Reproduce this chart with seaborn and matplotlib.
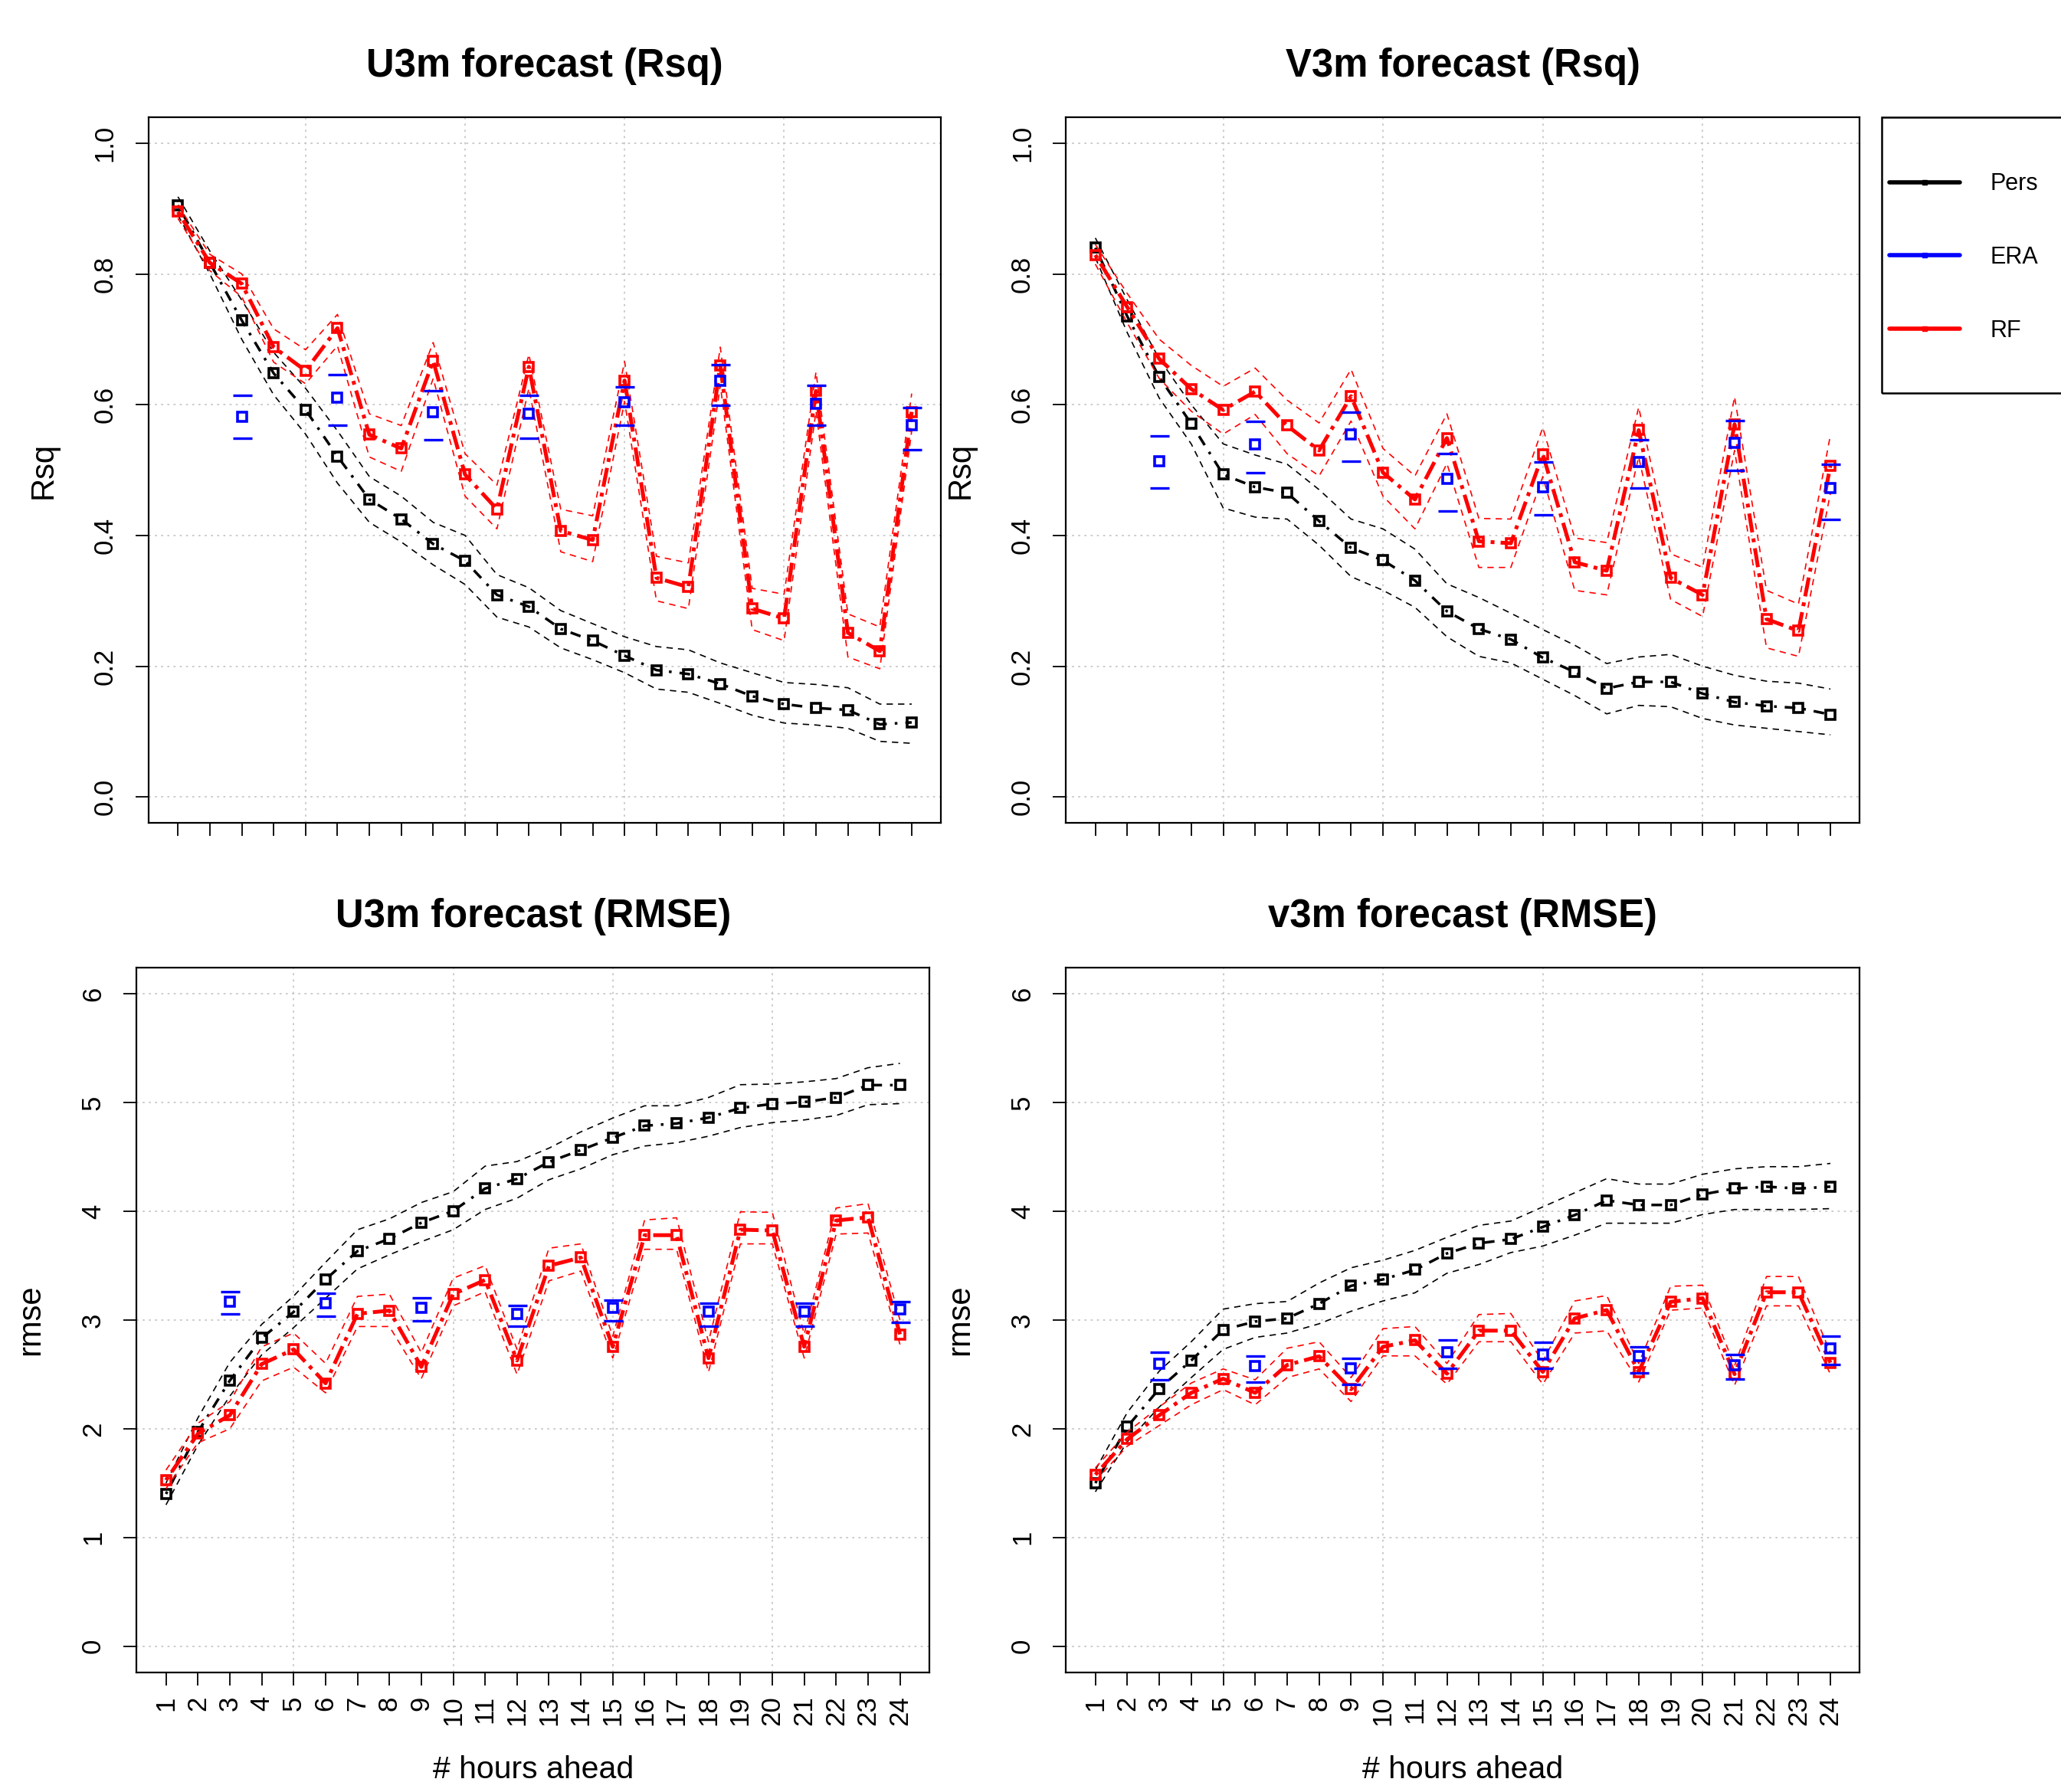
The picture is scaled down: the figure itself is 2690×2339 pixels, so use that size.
import matplotlib
matplotlib.use("Agg")
import numpy as np
import matplotlib.pyplot as plt
from matplotlib.lines import Line2D
from matplotlib.patches import Rectangle
import seaborn as sns

# hours ahead (x axis) and the hours where ERA is available
hours = list(range(1, 25))
era_hours = list(range(3, 25, 3))

# --- U3m Rsq ---
pers_u_rsq = [0.905, 0.817, 0.729, 0.648, 0.592, 0.521, 0.455, 0.425, 0.387, 0.361, 0.309, 0.291,
              0.257, 0.239, 0.216, 0.194, 0.188, 0.173, 0.154, 0.142, 0.136, 0.133, 0.111, 0.114]
pers_u_rsq_hi = [0.918, 0.835, 0.76, 0.68, 0.625, 0.56, 0.49, 0.46, 0.42, 0.40, 0.34, 0.32,
                 0.285, 0.265, 0.245, 0.23, 0.225, 0.205, 0.19, 0.175, 0.172, 0.167, 0.142, 0.142]
pers_u_rsq_lo = [0.89, 0.80, 0.70, 0.615, 0.555, 0.48, 0.42, 0.39, 0.355, 0.325, 0.275, 0.26,
                 0.228, 0.21, 0.19, 0.165, 0.16, 0.143, 0.125, 0.113, 0.11, 0.105, 0.085, 0.082]
rf_u_rsq = [0.895, 0.817, 0.785, 0.688, 0.652, 0.717, 0.554, 0.533, 0.667, 0.493, 0.44, 0.658,
            0.407, 0.393, 0.637, 0.335, 0.321, 0.66, 0.288, 0.273, 0.621, 0.251, 0.223, 0.589]
rf_u_rsq_hi = [0.905, 0.83, 0.80, 0.716, 0.684, 0.738, 0.586, 0.568, 0.695, 0.525, 0.477, 0.677,
               0.44, 0.43, 0.666, 0.368, 0.358, 0.688, 0.319, 0.31, 0.65, 0.28, 0.26, 0.617]
rf_u_rsq_lo = [0.885, 0.805, 0.765, 0.665, 0.632, 0.69, 0.52, 0.498, 0.64, 0.46, 0.41, 0.625,
               0.375, 0.36, 0.605, 0.30, 0.288, 0.63, 0.256, 0.239, 0.59, 0.214, 0.196, 0.56]
era_u_rsq = [0.582, 0.611, 0.589, 0.586, 0.604, 0.636, 0.601, 0.568]
era_u_rsq_hi = [0.614, 0.646, 0.621, 0.614, 0.627, 0.661, 0.629, 0.595]
era_u_rsq_lo = [0.549, 0.568, 0.546, 0.549, 0.568, 0.599, 0.568, 0.531]

# --- V3m Rsq ---
pers_v_rsq = [0.84, 0.735, 0.642, 0.571, 0.493, 0.474, 0.465, 0.422, 0.381, 0.362, 0.331, 0.284,
              0.257, 0.241, 0.213, 0.191, 0.166, 0.176, 0.176, 0.158, 0.145, 0.139, 0.136, 0.126]
pers_v_rsq_hi = [0.855, 0.76, 0.67, 0.60, 0.54, 0.523, 0.509, 0.47, 0.425, 0.41, 0.379, 0.326,
                 0.305, 0.281, 0.256, 0.232, 0.204, 0.214, 0.218, 0.20, 0.186, 0.177, 0.174, 0.165]
pers_v_rsq_lo = [0.825, 0.71, 0.61, 0.54, 0.442, 0.428, 0.425, 0.385, 0.337, 0.316, 0.29, 0.245,
                 0.215, 0.205, 0.18, 0.155, 0.127, 0.14, 0.138, 0.12, 0.11, 0.105, 0.10, 0.095]
rf_v_rsq = [0.829, 0.749, 0.67, 0.624, 0.592, 0.62, 0.568, 0.53, 0.613, 0.496, 0.455, 0.549,
            0.391, 0.388, 0.524, 0.359, 0.346, 0.561, 0.335, 0.309, 0.57, 0.272, 0.254, 0.507]
rf_v_rsq_hi = [0.845, 0.77, 0.70, 0.66, 0.628, 0.656, 0.607, 0.572, 0.654, 0.533, 0.491, 0.586,
               0.426, 0.425, 0.565, 0.396, 0.389, 0.596, 0.372, 0.351, 0.612, 0.316, 0.295, 0.554]
rf_v_rsq_lo = [0.815, 0.725, 0.64, 0.59, 0.555, 0.585, 0.525, 0.491, 0.575, 0.46, 0.41, 0.51,
               0.351, 0.351, 0.49, 0.316, 0.309, 0.52, 0.302, 0.276, 0.53, 0.228, 0.215, 0.465]
era_v_rsq = [0.514, 0.539, 0.554, 0.487, 0.474, 0.512, 0.542, 0.472]
era_v_rsq_hi = [0.552, 0.574, 0.589, 0.525, 0.512, 0.546, 0.576, 0.509]
era_v_rsq_lo = [0.472, 0.496, 0.514, 0.437, 0.431, 0.472, 0.499, 0.425]

# --- U3m RMSE ---
pers_u_rmse = [1.40, 1.97, 2.443, 2.834, 3.074, 3.373, 3.633, 3.747, 3.894, 4.003, 4.209, 4.298,
               4.453, 4.563, 4.676, 4.786, 4.807, 4.861, 4.95, 4.987, 5.004, 5.046, 5.16, 5.16]
pers_u_rmse_hi = [1.5, 2.1, 2.61, 2.96, 3.22, 3.53, 3.83, 3.93, 4.08, 4.18, 4.415, 4.457,
                  4.58, 4.73, 4.857, 4.97, 4.97, 5.046, 5.164, 5.17, 5.19, 5.22, 5.32, 5.36]
pers_u_rmse_lo = [1.3, 1.85, 2.3, 2.68, 2.93, 3.2, 3.47, 3.6, 3.72, 3.83, 4.016, 4.12,
                  4.29, 4.39, 4.52, 4.6, 4.63, 4.69, 4.77, 4.815, 4.84, 4.88, 4.98, 4.99]
rf_u_rmse = [1.527, 1.955, 2.124, 2.595, 2.729, 2.418, 3.057, 3.087, 2.569, 3.238, 3.368, 2.628,
             3.499, 3.574, 2.754, 3.78, 3.78, 2.649, 3.831, 3.823, 2.754, 3.915, 3.944, 2.868]
rf_u_rmse_hi = [1.62, 2.05, 2.25, 2.754, 2.88, 2.6, 3.217, 3.238, 2.7, 3.385, 3.5, 2.73,
                3.66, 3.7, 2.85, 3.92, 3.94, 2.8, 3.995, 3.99, 2.87, 4.03, 4.07, 3.0]
rf_u_rmse_lo = [1.45, 1.87, 2.0, 2.44, 2.566, 2.33, 2.94, 2.94, 2.46, 3.13, 3.26, 2.5,
                3.36, 3.45, 2.65, 3.65, 3.65, 2.52, 3.7, 3.7, 2.65, 3.79, 3.8, 2.775]
era_u_rmse = [3.167, 3.154, 3.112, 3.057, 3.112, 3.074, 3.074, 3.095]
era_u_rmse_hi = [3.263, 3.246, 3.204, 3.133, 3.183, 3.154, 3.154, 3.167]
era_u_rmse_lo = [3.057, 3.036, 2.994, 2.944, 2.994, 2.944, 2.944, 2.981]

# --- V3m RMSE ---
pers_v_rmse = [1.5, 2.018, 2.368, 2.628, 2.91, 2.986, 3.015, 3.15, 3.314, 3.373, 3.461, 3.612,
               3.705, 3.743, 3.856, 3.965, 4.1, 4.058, 4.058, 4.155, 4.209, 4.226, 4.209, 4.226]
pers_v_rmse_hi = [1.62, 2.15, 2.53, 2.8, 3.10, 3.15, 3.17, 3.34, 3.48, 3.55, 3.64, 3.76,
                  3.87, 3.91, 4.04, 4.17, 4.30, 4.25, 4.25, 4.34, 4.39, 4.41, 4.41, 4.44]
pers_v_rmse_lo = [1.42, 1.88, 2.2, 2.47, 2.73, 2.84, 2.88, 2.965, 3.08, 3.175, 3.25, 3.43,
                  3.51, 3.62, 3.68, 3.78, 3.89, 3.89, 3.89, 3.97, 4.016, 4.016, 4.016, 4.024]
rf_v_rmse = [1.577, 1.905, 2.124, 2.33, 2.46, 2.33, 2.586, 2.666, 2.363, 2.754, 2.813, 2.506,
             2.902, 2.902, 2.523, 3.015, 3.091, 2.523, 3.167, 3.2, 2.502, 3.255, 3.255, 2.607]
rf_v_rmse_hi = [1.64, 1.97, 2.2, 2.42, 2.55, 2.45, 2.74, 2.8, 2.47, 2.92, 2.94, 2.6,
                3.05, 3.06, 2.62, 3.175, 3.225, 2.6, 3.31, 3.32, 2.58, 3.4, 3.4, 2.7]
rf_v_rmse_lo = [1.52, 1.84, 2.03, 2.22, 2.36, 2.22, 2.47, 2.55, 2.25, 2.67, 2.67, 2.41,
                2.8, 2.8, 2.41, 2.88, 2.9, 2.43, 3.09, 3.11, 2.4, 3.13, 3.13, 2.5]
era_v_rmse = [2.595, 2.574, 2.557, 2.7, 2.683, 2.67, 2.586, 2.738]
era_v_rmse_hi = [2.704, 2.666, 2.645, 2.813, 2.796, 2.754, 2.683, 2.851]
era_v_rmse_lo = [2.447, 2.426, 2.405, 2.553, 2.553, 2.51, 2.46, 2.59]

rsq_ticks = [0.0, 0.2, 0.4, 0.6, 0.8, 1.0]
rsq_labels = ["0.0", "0.2", "0.4", "0.6", "0.8", "1.0"]
rmse_ticks = [0, 1, 2, 3, 4, 5, 6]
rmse_labels = ["0", "1", "2", "3", "4", "5", "6"]
grid_x = [5, 10, 15, 20]

sns.set_theme(style="white")
plt.rcParams['font.family'] = ['Liberation Sans', 'DejaVu Sans']
plt.rcParams['text.color'] = 'black'
plt.rcParams['axes.labelcolor'] = 'black'
plt.rcParams['axes.titlecolor'] = 'black'

DOTDASH = (0, (1, 3, 4, 3))
RF_DASH = (0, (1, 1.6, 5, 1.6))
CI_DASH = (0, (5, 4))
GRID_KW = dict(color='#c8c8c8', linestyle=(0, (1.5, 3)), linewidth=1.3, zorder=0)


def draw_panel(ax, title, ylabel, ylim, yticks, yticklabels, pers, rf, era, show_xlabels):
    pers_c, pers_hi, pers_lo = pers
    rf_c, rf_hi, rf_lo = rf
    era_c, era_hi, era_lo = era

    for yv in yticks:
        ax.axhline(yv, **GRID_KW)
    for xv in grid_x:
        ax.axvline(xv, **GRID_KW)

    mk = dict(marker='s', markersize=9, mfc='none', mew=2.6)

    # persistence
    for band in (pers_hi, pers_lo):
        sns.lineplot(x=hours, y=band, ax=ax, color='black', linestyle=CI_DASH, linewidth=1.2)
    sns.lineplot(x=hours, y=pers_c, ax=ax, color='black', linestyle=DOTDASH,
                 linewidth=2.5, mec='black', **mk)

    # random forest
    for band in (rf_hi, rf_lo):
        sns.lineplot(x=hours, y=band, ax=ax, color='red', linestyle=CI_DASH, linewidth=1.2)
    sns.lineplot(x=hours, y=rf_c, ax=ax, color='red', linestyle=RF_DASH,
                 linewidth=3.6, mec='red', **mk)

    # ERA with caps
    for cap in (era_hi, era_lo):
        sns.lineplot(x=era_hours, y=cap, ax=ax, color='blue', linestyle='none',
                     marker='_', markersize=18, mew=2.4, mec='blue')
    sns.lineplot(x=era_hours, y=era_c, ax=ax, color='blue', linestyle='none',
                 mec='blue', **mk)

    ax.set_xlim(0.08, 24.92)
    ax.set_ylim(*ylim)
    ax.set_xticks(hours)
    if show_xlabels:
        ax.set_xticklabels([str(h) for h in hours], rotation=90)
        ax.set_xlabel('# hours ahead', fontsize=29.5, labelpad=28)
    else:
        ax.set_xticklabels([])
    ax.set_yticks(yticks)
    ax.set_yticklabels(yticklabels, rotation=90, va='center')
    ax.set_ylabel(ylabel, fontsize=30, labelpad=32)
    ax.set_title(title, fontsize=36.5, fontweight='bold', pad=38)

    ax.tick_params(axis='both', which='major', bottom=True, left=True, direction='out',
                   length=12, width=1.3, color='black', labelcolor='black', labelsize=25)
    ax.tick_params(axis='y', pad=17)
    ax.tick_params(axis='x', pad=10)
    for s in ax.spines.values():
        s.set_color('black')
        s.set_linewidth(1.6)


fig = plt.figure(figsize=(26.9, 23.39), dpi=100)
ax_tl = fig.add_axes([0.0721, 0.5407, 0.3845, 0.3940])
ax_tr = fig.add_axes([0.5172, 0.5407, 0.3852, 0.3940])
ax_bl = fig.add_axes([0.0663, 0.0668, 0.3846, 0.3932])
ax_br = fig.add_axes([0.5172, 0.0668, 0.3852, 0.3932])

draw_panel(ax_tl, 'U3m forecast (Rsq)', 'Rsq', (-0.04, 1.04), rsq_ticks, rsq_labels,
           (pers_u_rsq, pers_u_rsq_hi, pers_u_rsq_lo), (rf_u_rsq, rf_u_rsq_hi, rf_u_rsq_lo),
           (era_u_rsq, era_u_rsq_hi, era_u_rsq_lo), False)
draw_panel(ax_tr, 'V3m forecast (Rsq)', 'Rsq', (-0.04, 1.04), rsq_ticks, rsq_labels,
           (pers_v_rsq, pers_v_rsq_hi, pers_v_rsq_lo), (rf_v_rsq, rf_v_rsq_hi, rf_v_rsq_lo),
           (era_v_rsq, era_v_rsq_hi, era_v_rsq_lo), False)
draw_panel(ax_bl, 'U3m forecast (RMSE)', 'rmse', (-0.24, 6.24), rmse_ticks, rmse_labels,
           (pers_u_rmse, pers_u_rmse_hi, pers_u_rmse_lo), (rf_u_rmse, rf_u_rmse_hi, rf_u_rmse_lo),
           (era_u_rmse, era_u_rmse_hi, era_u_rmse_lo), True)
draw_panel(ax_br, 'v3m forecast (RMSE)', 'rmse', (-0.24, 6.24), rmse_ticks, rmse_labels,
           (pers_v_rmse, pers_v_rmse_hi, pers_v_rmse_lo), (rf_v_rmse, rf_v_rmse_hi, rf_v_rmse_lo),
           (era_v_rmse, era_v_rmse_hi, era_v_rmse_lo), True)

# legend outside the top-right panel
handles = [Line2D([0], [0], color=c, lw=4, marker='s', markersize=5) for c in ('black', 'blue', 'red')]
fig.legend(handles, ['Pers', 'ERA', 'RF'], loc='center left', bbox_to_anchor=(0.9110, 0.8563),
           frameon=False, fontsize=22, handlelength=3.0, handletextpad=1.3,
           labelspacing=2.15, borderpad=0)
fig.add_artist(Rectangle((0.9130, 0.7807), 0.1, 0.1539, transform=fig.transFigure,
                         fill=False, lw=1.8, ec='black', clip_on=False))

fig.savefig('out.png', dpi=100)
